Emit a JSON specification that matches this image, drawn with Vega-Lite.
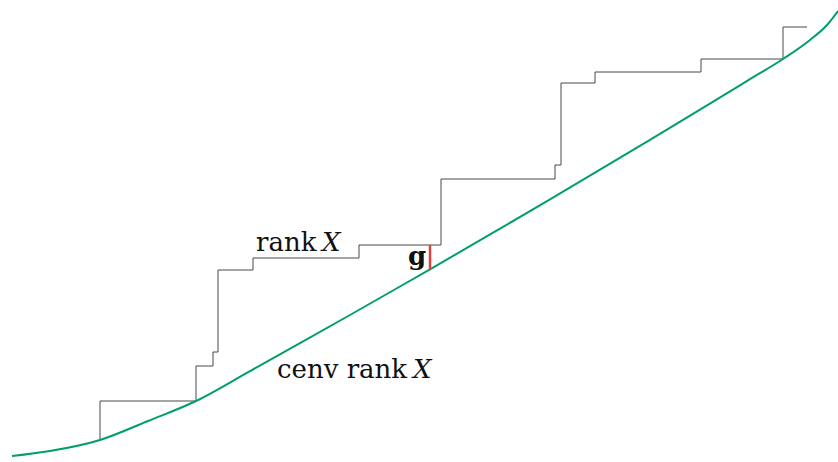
{
  "$schema": "https://vega.github.io/schema/vega-lite/v6.json",
  "width": 838,
  "height": 462,
  "padding": 0,
  "autosize": {"type": "none"},
  "background": "white",
  "config": {"view": {"stroke": null}},
  "datasets": {
    "steps": [
      {"i": 0, "x": 100, "y": 440}, {"i": 1, "x": 100, "y": 401}, {"i": 2, "x": 196, "y": 401},
      {"i": 3, "x": 196, "y": 366}, {"i": 4, "x": 213, "y": 366}, {"i": 5, "x": 213, "y": 352},
      {"i": 6, "x": 218, "y": 352}, {"i": 7, "x": 218, "y": 270}, {"i": 8, "x": 253, "y": 270},
      {"i": 9, "x": 253, "y": 258}, {"i": 10, "x": 359, "y": 258}, {"i": 11, "x": 359, "y": 245},
      {"i": 12, "x": 441, "y": 245}, {"i": 13, "x": 441, "y": 179}, {"i": 14, "x": 555, "y": 179},
      {"i": 15, "x": 555, "y": 165}, {"i": 16, "x": 561, "y": 165}, {"i": 17, "x": 561, "y": 83},
      {"i": 18, "x": 595, "y": 83}, {"i": 19, "x": 595, "y": 72}, {"i": 20, "x": 701, "y": 72},
      {"i": 21, "x": 701, "y": 59}, {"i": 22, "x": 783, "y": 59}, {"i": 23, "x": 783, "y": 27},
      {"i": 24, "x": 807, "y": 27}
    ],
    "cenv": [
      {"x": 12, "y": 456}, {"x": 50, "y": 451}, {"x": 100, "y": 440}, {"x": 148, "y": 421},
      {"x": 196, "y": 401}, {"x": 250, "y": 371.1}, {"x": 300, "y": 343.2}, {"x": 350, "y": 315},
      {"x": 400, "y": 286.5}, {"x": 430, "y": 269.3}, {"x": 500, "y": 228.7}, {"x": 550, "y": 199.3},
      {"x": 600, "y": 169.7}, {"x": 650, "y": 139.8}, {"x": 700, "y": 109.7}, {"x": 750, "y": 79.2},
      {"x": 783, "y": 59}, {"x": 810, "y": 40}, {"x": 827, "y": 25}, {"x": 838, "y": 11}
    ],
    "gap": [{"x": 430, "y": 245, "y2": 269}],
    "labels": [
      {"part": "regular", "text": "rank", "x": 256, "y": 251},
      {"part": "italic", "text": "X", "x": 322, "y": 251},
      {"part": "regular", "text": "cenv rank", "x": 277, "y": 378},
      {"part": "italic", "text": "X", "x": 413, "y": 378},
      {"part": "bold", "text": "g", "x": 408, "y": 265}
    ]
  },
  "encoding": {
    "x": {"field": "x", "type": "quantitative", "scale": {"domain": [0, 838]}, "axis": null},
    "y": {"field": "y", "type": "quantitative", "scale": {"domain": [0, 462], "reverse": true}, "axis": null}
  },
  "layer": [
    {
      "data": {"name": "steps"},
      "mark": {"type": "line", "color": "#484848", "strokeWidth": 1},
      "encoding": {"order": {"field": "i", "type": "quantitative"}}
    },
    {
      "data": {"name": "cenv"},
      "mark": {"type": "line", "color": "#00a064", "strokeWidth": 2, "interpolate": "monotone"}
    },
    {
      "data": {"name": "gap"},
      "mark": {"type": "rule", "color": "#e0403a", "strokeWidth": 2.5},
      "encoding": {"y2": {"field": "y2"}}
    },
    {
      "data": {"name": "labels"},
      "transform": [{"filter": "datum.part === 'regular'"}],
      "mark": {"type": "text", "font": "DejaVu Serif", "fontSize": 26, "align": "left", "baseline": "alphabetic", "color": "#111111"},
      "encoding": {"text": {"field": "text"}}
    },
    {
      "data": {"name": "labels"},
      "transform": [{"filter": "datum.part === 'italic'"}],
      "mark": {"type": "text", "font": "DejaVu Serif", "fontStyle": "italic", "fontSize": 26, "align": "left", "baseline": "alphabetic", "color": "#111111"},
      "encoding": {"text": {"field": "text"}}
    },
    {
      "data": {"name": "labels"},
      "transform": [{"filter": "datum.part === 'bold'"}],
      "mark": {"type": "text", "font": "DejaVu Serif", "fontWeight": "bold", "fontSize": 26, "align": "left", "baseline": "alphabetic", "color": "#111111"},
      "encoding": {"text": {"field": "text"}}
    }
  ]
}
